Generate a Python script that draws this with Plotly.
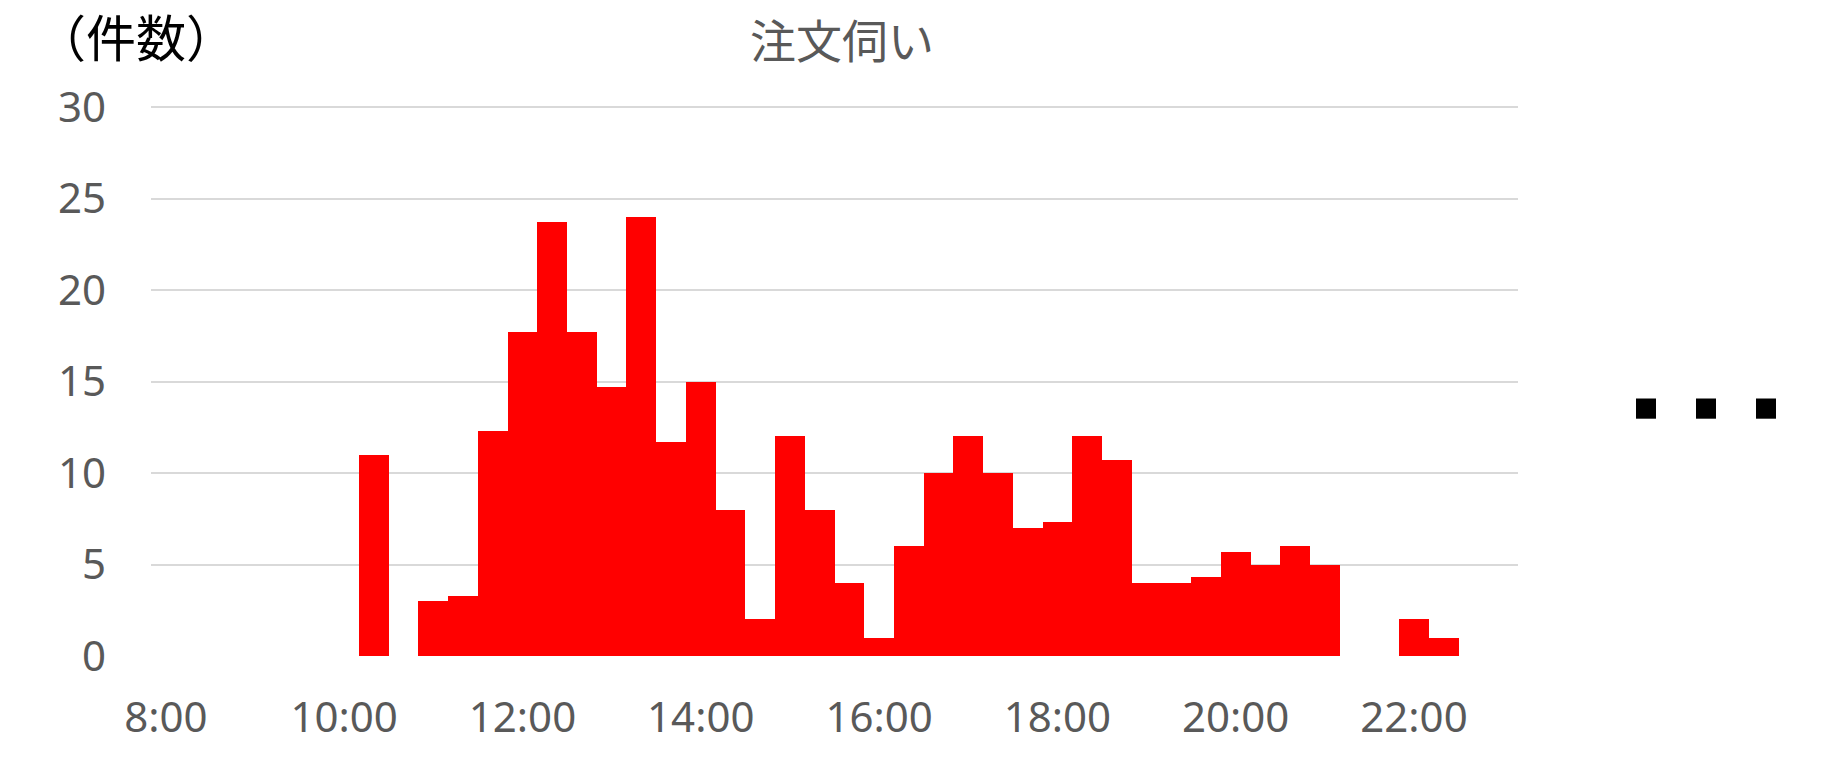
import plotly.graph_objects as go

# 20-minute time slots from 8:00 to 23:00
slots = [
    "8:00", "8:20", "8:40", "9:00", "9:20", "9:40",
    "10:00", "10:20", "10:40", "11:00", "11:20", "11:40",
    "12:00", "12:20", "12:40", "13:00", "13:20", "13:40",
    "14:00", "14:20", "14:40", "15:00", "15:20", "15:40",
    "16:00", "16:20", "16:40", "17:00", "17:20", "17:40",
    "18:00", "18:20", "18:40", "19:00", "19:20", "19:40",
    "20:00", "20:20", "20:40", "21:00", "21:20", "21:40",
    "22:00", "22:20", "22:40", "23:00",
]

# number of orders taken in each slot
counts = [
    0, 0, 0, 0, 0, 0,
    0, 11, 0, 3, 3.3, 12.3,
    17.7, 23.7, 17.7, 14.7, 24, 11.7,
    15, 8, 2, 12, 8, 4,
    1, 6, 10, 12, 10, 7,
    7.3, 12, 10.7, 4, 4, 4.3,
    5.7, 5, 6, 5, 0, 0,
    2, 1, 0, 0,
]

x_ticks = ["8:00", "10:00", "12:00", "14:00", "16:00", "18:00", "20:00", "22:00"]
y_ticks = [0, 5, 10, 15, 20, 25, 30]
y_max = 30.06  # a hair above 30 so the top gridline is drawn

W, H = 1845, 763
L, R, T, B = 151, 327, 106, 107


def px_x(p):
    return (p - L) / (W - L - R)


def px_y(p):
    return (H - B - p) / (H - T - B)


fig = go.Figure(
    go.Bar(
        x=slots,
        y=counts,
        marker=dict(color="#ff0000", line=dict(width=0)),
        hoverinfo="x+y",
    )
)

fig.update_layout(
    width=W,
    height=H,
    margin=dict(l=L, r=R, t=T, b=B),
    paper_bgcolor="white",
    plot_bgcolor="white",
    bargap=0,
    showlegend=False,
    font=dict(family="Noto Sans", color="#595959"),
    title=dict(
        text="注文伺い",
        font=dict(family="Noto Sans CJK JP", size=46, color="#595959"),
        x=842 / W,
        xanchor="center",
        xref="container",
        y=1 - 42 / H,
        yanchor="middle",
    ),
)

fig.update_xaxes(
    type="category",
    categoryorder="array",
    categoryarray=slots,
    tickmode="array",
    tickvals=x_ticks,
    ticktext=x_ticks,
    tickfont=dict(family="Noto Sans", size=42, color="#595959"),
    ticks="",
    ticklabelstandoff=33,
    showgrid=False,
    showline=False,
    zeroline=False,
)

fig.update_yaxes(
    range=[0, y_max],
    tickmode="array",
    tickvals=y_ticks,
    tickfont=dict(family="Noto Sans", size=42, color="#595959"),
    ticks="",
    ticklabelstandoff=44,
    showgrid=True,
    gridcolor="#d9d9d9",
    gridwidth=2,
    showline=False,
    zeroline=False,
)

# unit label at the upper left
fig.add_annotation(
    text="（件数）",
    xref="paper",
    yref="paper",
    x=px_x(34),
    y=px_y(35),
    xanchor="left",
    yanchor="middle",
    showarrow=False,
    font=dict(family="Noto Sans CJK JP", size=50, color="#000000"),
)

# continuation marks on the right
for left in [1636, 1696, 1756]:
    fig.add_shape(
        type="rect",
        xref="paper",
        yref="paper",
        x0=px_x(left),
        x1=px_x(left + 20),
        y0=px_y(418.7),
        y1=px_y(398.5),
        fillcolor="#000000",
        line=dict(width=0),
    )

fig.write_html("out.html")
